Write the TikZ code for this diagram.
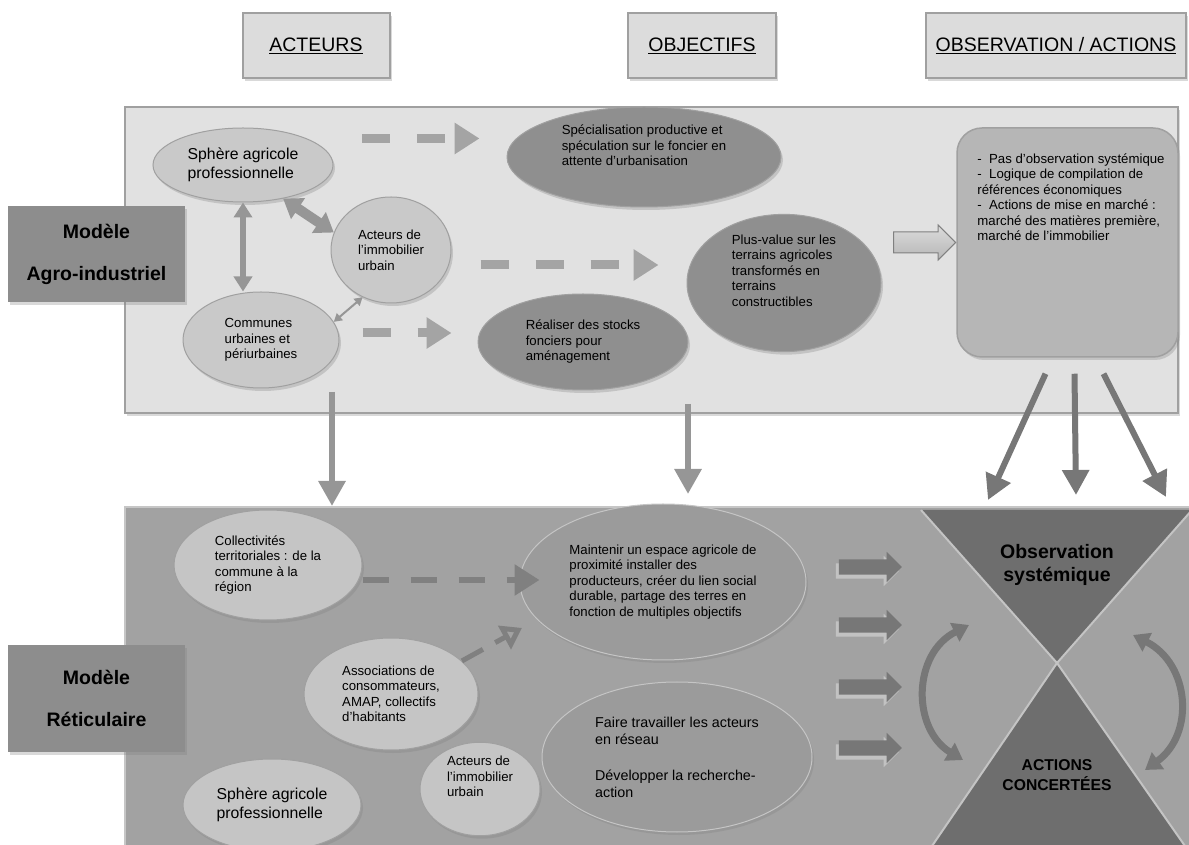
\documentclass[tikz,border=0pt]{standalone}
\usepackage{fontspec}
\setmainfont{Liberation Sans}
\usepackage{xcolor}
\usepackage{tikz}
\usetikzlibrary{arrows.meta}
\usetikzlibrary{calc}
\usetikzlibrary{shapes.geometric, shapes.arrows, shadows}

\definecolor{grisfondhaut}{HTML}{E1E1E1}
\definecolor{grisfondbas}{HTML}{A2A2A2}
\definecolor{grisbord}{HTML}{A0A0A0}
\definecolor{grisentete}{HTML}{DCDCDC}
\definecolor{grismodele}{HTML}{8D8D8D}
\definecolor{grisacteur}{HTML}{C9C9C9}
\definecolor{grisobjectif}{HTML}{8F8F8F}
\definecolor{griscadre}{HTML}{B6B6B6}
\definecolor{gristiret}{HTML}{A4A4A4}
\definecolor{grisdescente}{HTML}{969696}
\definecolor{grisfleche}{HTML}{777777}
\definecolor{gristri}{HTML}{6E6E6E}
\definecolor{grisarete}{HTML}{C4C4C4}
\definecolor{grisobjbas}{HTML}{9B9B9B}
\definecolor{grisactbas}{HTML}{C5C5C5}

\newcommand{\policeA}{\fontsize{13.2}{15.5}\selectfont}
\newcommand{\policeB}{\fontsize{15.8}{18.5}\selectfont}
\newcommand{\policeC}{\fontsize{19.5}{23}\selectfont}

\tikzstyle{ombre} = [drop shadow={opacity=0.3, shadow xshift=2pt, shadow yshift=-3pt}]
\tikzstyle{entete} = [rectangle, draw=grisbord, line width=2pt, fill=grisentete, minimum width=147pt, minimum height=65pt, font=\policeC, ombre]
\tikzstyle{panneau} = [rectangle, line width=2pt, inner sep=0pt, ombre]
\tikzstyle{modele} = [rectangle, fill=grismodele, minimum width=177pt, align=center, font=\policeC\bfseries, ombre]
\tikzstyle{acteur} = [ellipse, draw=grisbord, line width=1pt, fill=grisacteur, inner sep=0pt, align=left, font=\policeA, ombre]
\tikzstyle{objectif} = [ellipse, draw=grisbord, line width=1pt, fill=grisobjectif, inner sep=0pt, align=left, font=\policeA, ombre]
\tikzstyle{tirets} = [line width=9pt, draw=gristiret, dash pattern=on 28pt off 27pt, -{Triangle[length=25pt,width=30pt]}]
\tikzstyle{tiretsbas} = [line width=6pt, draw=grisfleche!80!grisfondbas, dash pattern=on 26pt off 22pt, -{Triangle[length=25pt,width=30pt]}]
\tikzstyle{descente} = [line width=6pt, draw=grisdescente, -{Triangle[length=25pt,width=26pt]}]
\tikzstyle{bloc} = [single arrow, fill=grisfleche, minimum height=63pt, inner xsep=0pt, inner ysep=7.5pt, single arrow head extend=7.5pt, drop shadow={fill=white, opacity=0.35, shadow xshift=-3pt, shadow yshift=-4pt}]
\tikzstyle{courbe} = [line width=7pt, draw=grisfleche, {Triangle[length=16pt,width=20pt]}-{Triangle[length=16pt,width=20pt]}]
\tikzstyle{arete} = [line width=2pt, draw=grisarete]

\begin{document}
\begin{tikzpicture}[x=1pt,y=1pt]
\useasboundingbox (0,0) rectangle (1189,844);

% en-tetes des colonnes
\node[entete] (acteurs) at (316,798) {\underline{ACTEURS}};
\node[entete, minimum width=148pt] (objectifs) at (702,798) {\underline{OBJECTIFS}};
\node[entete, minimum width=260pt, inner sep=2pt] (obsact) at (1056,798) {\underline{OBSERVATION / ACTIONS}};

% panneaux des deux modeles
\node[panneau, draw=grisbord, fill=grisfondhaut, minimum width=1053pt, minimum height=306pt] (agro) at (651.5,584) {};
\node[panneau, draw=grisbord!60, fill=grisfondbas, minimum width=1075pt, minimum height=345pt] (reti) at (662.5,164.5) {};

\node[modele, minimum height=96pt] (modA) at (96.5,590) {Modèle\\[19pt]Agro-industriel};
\node[modele, minimum height=107pt] (modR) at (96.5,145.5) {Modèle\\[19pt]Réticulaire};

% modele agro-industriel
\node[acteur, minimum width=180pt, minimum height=74pt, font=\policeB] (sphA) at (243,679) {Sphère agricole\\professionnelle};
\node[acteur, minimum width=120pt, minimum height=106pt] (immA) at (391,594) {Acteurs de\\l'immobilier\\urbain};
\node[acteur, minimum width=156pt, minimum height=96pt] (comA) at (261,504) {Communes\\urbaines et\\périurbaines};
\node[objectif, minimum width=274pt, minimum height=100pt] (specA) at (644,687) {Spécialisation productive et\\spéculation sur le foncier en\\attente d'urbanisation\\[8pt]};
\node[objectif, minimum width=210pt, minimum height=96pt] (realA) at (583,502) {Réaliser des stocks\\fonciers pour\\aménagement};
\node[objectif, minimum width=194pt, minimum height=136pt] (plusA) at (784,561) {Plus-value sur les\\terrains agricoles\\transformés en\\terrains\\constructibles\\[10pt]};
\node[rectangle, rounded corners=25pt, draw=grisbord, line width=1.5pt, fill=griscadre, minimum width=221pt, minimum height=229pt, ombre] (obsA) at (1067.5,601.5) {};
\node[anchor=north west, align=left, font=\policeA, inner sep=0pt] (obsAtxt) at ([xshift=21pt,yshift=-26pt]obsA.north west)
  {-\ \ Pas d'observation systémique\\-\ \ Logique de compilation de\\références économiques\\-\ \ Actions de mise en marché :\\marché des matières première,\\marché de l'immobilier};
\node[single arrow, draw=grisbord!80!black, line width=1pt, top color=grisentete, bottom color=griscadre, minimum height=62pt, inner xsep=0pt, inner ysep=10pt, single arrow head extend=7pt, anchor=tip] (flA) at (obsA.west) {};

\draw[<->, >={Triangle[length=15pt,width=18pt]}, line width=6pt, draw=grisdescente] (sphA.south) -- (sphA.south |- comA.north);
\draw[<->, >={Triangle[length=18pt,width=24pt]}, line width=10pt, draw=grisdescente] (sphA.-40) -- (immA.163);
\draw[<->, >={Triangle[length=8pt,width=9pt]}, line width=2pt, draw=grisdescente] (comA.14) -- (immA.-121);
\draw[tirets] ([xshift=55pt]sphA.north east) -- ([xshift=-27pt]sphA.north east -| specA.west);
\draw[tirets] ([xshift=29pt,yshift=-15pt]immA.east) -- ([xshift=-28pt,yshift=-15pt]immA.east -| plusA.west);
\draw[tirets] ([xshift=23pt,yshift=7pt]comA.east) -- ([xshift=-26pt,yshift=7pt]comA.east -| realA.west);

% passage vers le modele reticulaire
\coordinate (d1) at ($(agro.south west)+(208,22)$);
\coordinate (d2) at ($(agro.south west)+(564,10)$);
\draw[descente] (d1) -- (d1 |- reti.north);
\draw[descente] (d2) -- ([yshift=12pt]d2 |- reti.north);
\coordinate (obs1) at (988,344);
\coordinate (obs2) at (1076,349);
\coordinate (obs3) at (1166,347);
\draw[descente, draw=grisfleche] ([xshift=-22pt,yshift=-16pt]obsA.south) -- (obs1);
\draw[descente, draw=grisfleche] ([xshift=7pt,yshift=-16pt]obsA.south) -- (obs2);
\draw[descente, draw=grisfleche] ([xshift=36pt,yshift=-16pt]obsA.south) -- (obs3);

% sablier observation / actions
\fill[gristri] (921,334) -- (1192,334) -- (1057,181) -- cycle;
\fill[gristri] (932,-2) -- (1057,181) -- (1185,-2) -- cycle;
\draw[arete] (921,334) -- (1057,181) -- (1192,334);
\draw[arete] (932,-2) -- (1057,181) -- (1185,-2);
\node[font=\policeC\bfseries, align=center, inner sep=0pt] (obsSys) at (1057,279) {Observation\\systémique};
\node[font=\fontsize{15.7}{20}\selectfont\bfseries, align=center, inner sep=0pt] (actConc) at (1057,69) {ACTIONS\\CONCERTÉES};

% modele reticulaire
\node[acteur, fill=grisactbas, minimum width=188pt, minimum height=110pt] (colB) at (268,279) {Collectivités\\territoriales : de la\\commune à la\\région};
\node[acteur, fill=grisactbas, minimum width=174pt, minimum height=112pt] (assB) at (391,150) {Associations de\\consommateurs,\\AMAP, collectifs\\d'habitants};
\draw[tiretsbas, -{Triangle[open, length=20pt, width=26pt]}, line width=5pt, dash pattern=on 24pt off 14pt] (assB.25) -- ($(assB.25)+(60,33)$);
\node[objectif, draw=grisactbas, fill=grisobjbas, minimum width=286pt, minimum height=156pt] (mainB) at (663,262) {Maintenir un espace agricole de\\proximité installer des\\producteurs, créer du lien social\\durable, partage des terres en\\fonction de multiples objectifs};
\node[acteur, fill=grisactbas, minimum width=120pt, minimum height=80pt] (immB) at (480,55) {Acteurs de\\l'immobilier\\urbain\\[10pt]};
\node[acteur, fill=grisactbas, minimum width=178pt, minimum height=92pt, font=\policeB] (sphB) at (272,39) {Sphère agricole\\professionnelle};
\node[objectif, draw=grisactbas, fill=grisobjbas, minimum width=270pt, minimum height=150pt, font=\fontsize{14.3}{17}\selectfont] (faiB) at (677,87) {Faire travailler les acteurs\\en réseau\\[19pt]Développer la recherche-\\action};
\draw[tiretsbas] ([yshift=-15pt]colB.east) -- ([xshift=20pt,yshift=-15pt]colB.east -| mainB.west);

\node[bloc] (fl1) at (866.5,277) {};
\node[bloc] (fl2) at (866.5,219) {};
\node[bloc] (fl3) at (866.5,157) {};
\node[bloc] (fl4) at (866.5,96) {};

\coordinate (cg1) at (969,219);
\coordinate (cg2) at (963,84);
\coordinate (cd1) at (1133,209);
\coordinate (cd2) at (1145,74);
\draw[courbe] (cg1) .. controls (912,190) and (912,115) .. (cg2);
\draw[courbe] (cd1) .. controls (1190,180) and (1195,110) .. (cd2);

\end{tikzpicture}
\end{document}
